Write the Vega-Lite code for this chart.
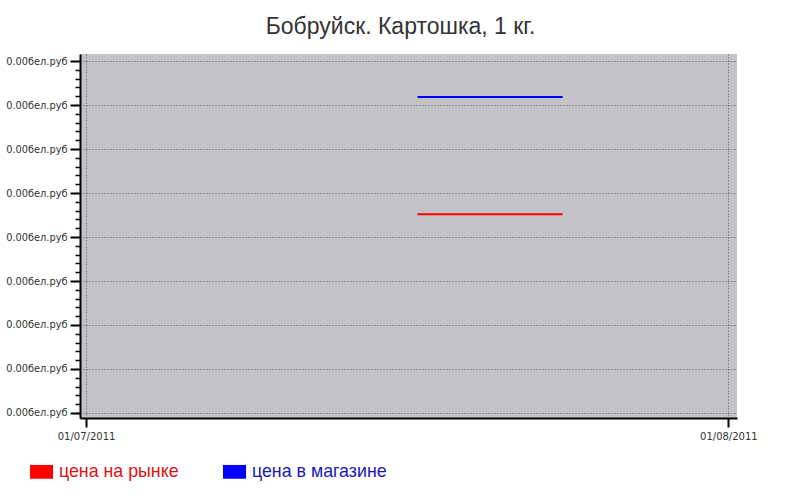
{
  "$schema": "https://vega.github.io/schema/vega-lite/v6.json",
  "width": 657,
  "height": 364,
  "autosize": {"type": "none"},
  "padding": {"left": 80, "top": 54, "right": 63, "bottom": 80},
  "background": "white",
  "title": {
    "text": "Бобруйск. Картошка, 1 кг.",
    "font": "Liberation Sans",
    "fontSize": 23,
    "fontWeight": "normal",
    "color": "#333333",
    "anchor": "middle",
    "dx": -8,
    "offset": 15
  },
  "data": {
    "values": [
      {"date": "2011-07-17", "price": 4.52, "series": "цена на рынке"},
      {"date": "2011-07-24", "price": 4.52, "series": "цена на рынке"},
      {"date": "2011-07-17", "price": 7.18, "series": "цена в магазине"},
      {"date": "2011-07-24", "price": 7.18, "series": "цена в магазине"}
    ]
  },
  "layer": [
    {
      "mark": {"type": "line", "strokeWidth": 2},
      "encoding": {
        "x": {
          "field": "date",
          "type": "temporal",
          "scale": {
            "type": "utc",
            "domain": [
              {"year": 2011, "month": 6, "date": 30, "hours": 17, "utc": true},
              {"year": 2011, "month": 8, "date": 1, "hours": 10, "utc": true}
            ]
          },
          "axis": {
            "title": null,
            "values": [
              {"year": 2011, "month": 7, "date": 1, "utc": true},
              {"year": 2011, "month": 8, "date": 1, "utc": true}
            ],
            "format": "%d/%m/%Y",
            "labelFont": "DejaVu Sans",
            "labelFontSize": 10,
            "labelColor": "#333333",
            "labelPadding": 4,
            "tickColor": "black",
            "tickWidth": 2,
            "tickSize": 9,
            "domainColor": "black",
            "domainWidth": 2,
            "grid": true,
            "gridColor": "#555555",
            "gridDash": [1, 2],
            "gridWidth": 1,
            "gridOpacity": 1
          }
        },
        "y": {
          "field": "price",
          "type": "quantitative",
          "scale": {"domain": [-0.114, 8.16], "nice": false, "zero": false},
          "axis": {
            "title": null,
            "orient": "left",
            "values": [0, 1, 2, 3, 4, 5, 6, 7, 8],
            "labelExpr": "'0.00бел.руб'",
            "labelFont": "DejaVu Sans",
            "labelFontSize": 9.8,
            "labelColor": "#333333",
            "labelPadding": 3,
            "tickColor": "black",
            "tickWidth": 2,
            "tickSize": 10,
            "domainColor": "black",
            "domainWidth": 2,
            "grid": true,
            "gridColor": "#555555",
            "gridDash": [1, 2],
            "gridWidth": 1,
            "gridOpacity": 1
          }
        },
        "color": {
          "field": "series",
          "type": "nominal",
          "scale": {
            "domain": ["цена на рынке", "цена в магазине"],
            "range": ["#ff0000", "#0000ff"]
          },
          "legend": {
            "title": null,
            "orient": "none",
            "legendX": -50,
            "legendY": 406,
            "direction": "horizontal",
            "symbolType": "M-1,-0.6H1V0.6H-1Z",
            "symbolSize": 529,
            "symbolStrokeWidth": 0,
            "symbolOpacity": 1,
            "labelFont": "Liberation Sans",
            "labelFontSize": 17.8,
            "labelOffset": 6,
            "columnPadding": 44,
            "encode": {
              "symbols": {"update": {"fill": {"scale": "color", "field": "value"}, "strokeWidth": {"value": 0}}},
              "labels": {"update": {"fill": {"signal": "datum.value === 'цена на рынке' ? '#e01010' : '#1818b8'"}}}
            }
          }
        }
      }
    },
    {
      "mark": {"type": "line", "opacity": 0},
      "encoding": {
        "x": {"field": "date", "type": "temporal"},
        "y": {
          "field": "price",
          "type": "quantitative",
          "axis": {
            "title": null,
            "orient": "left",
            "values": [0, 0.2, 0.4, 0.6, 0.8, 1.2, 1.4, 1.6, 1.8, 2.2, 2.4, 2.6, 2.8, 3.2, 3.4, 3.6, 3.8, 4.2, 4.4, 4.6, 4.8, 5.2, 5.4, 5.6, 5.8, 6.2, 6.4, 6.6, 6.8, 7.2, 7.4, 7.6, 7.8],
            "labels": false,
            "grid": false,
            "domain": false,
            "tickColor": "black",
            "tickWidth": 1.5,
            "tickSize": 5
          }
        }
      }
    }
  ],
  "resolve": {"axis": {"y": "independent"}},
  "config": {
    "view": {"fill": "#c4c3c8", "stroke": null}
  }
}
